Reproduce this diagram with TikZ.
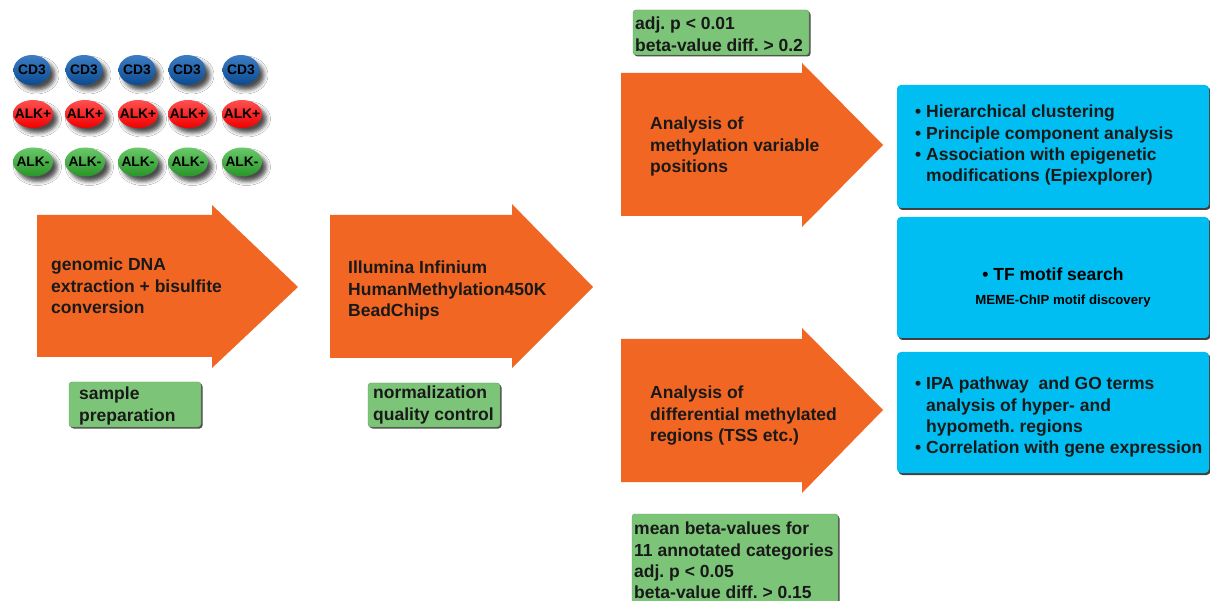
\documentclass[tikz,border=0pt]{standalone}
\usepackage{fontspec}
\setmainfont{Liberation Sans}
\frenchspacing
\usetikzlibrary{shapes.geometric,shadows,shadows.blur}
\definecolor{arrowor}{RGB}{242,102,35}
\definecolor{boxblue}{RGB}{0,190,242}
\definecolor{boxgreen}{RGB}{124,197,120}
\definecolor{cdtop}{RGB}{60,125,195}
\definecolor{cdbot}{RGB}{12,75,145}
\definecolor{redtop}{RGB}{255,80,80}
\definecolor{redbot}{RGB}{240,0,0}
\definecolor{grtop}{RGB}{105,200,105}
\definecolor{grbot}{RGB}{40,150,40}
\tikzset{
  arrowshape/.style={fill=arrowor},
  arrowtext/.style={anchor=north west, inner sep=0pt, align=left,
    font=\fontsize{17.5}{21.2}\selectfont\bfseries, text=black!90},
  bluebox/.style={fill=boxblue, rounded corners=4pt,
    drop shadow={shadow xshift=1.5pt, shadow yshift=-2pt, fill=black!75, opacity=1}},
  greenbox/.style={fill=boxgreen, draw=boxgreen!80!black, line width=0.4pt, rounded corners=3pt,
    drop shadow={shadow xshift=1.5pt, shadow yshift=-1.5pt, fill=black!70, opacity=1}},
  boxtext/.style={anchor=north west, inner sep=0pt, align=left,
    font=\fontsize{17.5}{21.2}\selectfont\bfseries, text=black!90},
  sample/.style={ellipse, inner sep=0pt, minimum width=39pt, minimum height=29pt,
    blur shadow={shadow xshift=4.5pt, shadow yshift=-5pt, shadow blur radius=4pt, shadow opacity=70}},
  cellabel/.style={inner sep=0pt, font=\fontsize{13.8}{14}\selectfont\bfseries, text=black},
  cdcell/.style={sample, top color=cdtop, bottom color=cdbot, minimum width=37pt, minimum height=30pt},
  alkp/.style={sample, top color=redtop, bottom color=redbot, minimum width=40pt, minimum height=28pt},
  alkm/.style={sample, top color=grtop, bottom color=grbot, minimum width=40pt, minimum height=29pt},
}
\begin{document}
\begin{tikzpicture}[x=1pt,y=-1pt]
\useasboundingbox (0,0) rectangle (1210,601);
\fill[white] (0,0) rectangle (1210,601);

% sample ellipses
\foreach \x [count=\i] in {32,84,137,187,241}{
  \node[cdcell] (cd\i) at (\x,70) {};
  \node[cellabel] (cdl\i) at (cd\i) {CD3};
  \node[alkp] (ap\i) at (\x+1,114) {};
  \node[cellabel] (apl\i) at (ap\i) {ALK+};
  \node[alkm] (am\i) at (\x+1,162) {};
  \node[cellabel] (aml\i) at (am\i) {ALK-};
}

% big arrows
\fill[arrowshape] (37,215) -- (212,215) -- (212,205) -- (298,287) -- (212,368) -- (212,357) -- (37,357) -- cycle;
\fill[arrowshape] (330,215) -- (512,215) -- (512,204) -- (593,287) -- (512,368) -- (512,358) -- (330,358) -- cycle;
\fill[arrowshape] (621,73) -- (802,73) -- (802,63) -- (883,145) -- (802,227) -- (802,216) -- (621,216) -- cycle;
\fill[arrowshape] (621,339) -- (802,339) -- (802,328) -- (883,410) -- (802,493) -- (802,482) -- (621,482) -- cycle;

\node[arrowtext] (t1) at (51,258) {genomic DNA\\extraction + bisulfite\\conversion};
\node[arrowtext] (t2) at (348,261) {Illumina Infinium\\HumanMethylation450K\\BeadChips};
\node[arrowtext] (t3) at (650,117) {Analysis of\\methylation variable\\positions};
\node[arrowtext] (t4) at (650,386) {Analysis of\\differential methylated\\regions (TSS etc.)};

% green boxes
\path[greenbox] (69,382) rectangle (201,427);
\path[greenbox] (368,383) rectangle (500,427);
\path[greenbox] (633,10) rectangle (809,55);
\path[greenbox] (632,514) rectangle (838,604);
\node[boxtext] (g1) at (79,387) {sample\\preparation};
\node[boxtext] (g2) at (373,386) {normalization\\quality control};
\node[boxtext] (g3) at (635,17) {adj. p < 0.01\\beta-value diff. > 0.2};
\node[boxtext] (g4) at (634,522) {mean beta-values for\\11 annotated categories\\adj. p < 0.05\\beta-value diff. > 0.15};

% blue boxes
\path[bluebox] (897,85) rectangle (1209,208);
\path[bluebox] (897,217) rectangle (1209,338);
\path[bluebox] (897,352) rectangle (1209,473);
\node[boxtext] (b1) at (915,105) {\makebox[11pt][l]{•}Hierarchical clustering\\
  \makebox[11pt][l]{•}Principle component analysis\\
  \makebox[11pt][l]{•}Association with epigenetic\\
  \hspace*{11pt}modifications (Epiexplorer)};
\node[inner sep=0pt, font=\fontsize{17.5}{21}\selectfont\bfseries] (b2) at (1053,274) {• TF motif search};
\node[inner sep=0pt, font=\fontsize{13.2}{15}\selectfont\bfseries] (b2s) at (1063,301) {MEME-ChIP motif discovery};
\node[boxtext] (b3) at (915,377) {\makebox[11pt][l]{•}IPA pathway\ \ and GO terms\\
  \hspace*{11pt}analysis of hyper- and\\
  \hspace*{11pt}hypometh. regions\\
  \makebox[11pt][l]{•}Correlation with gene expression};
\end{tikzpicture}
\end{document}
